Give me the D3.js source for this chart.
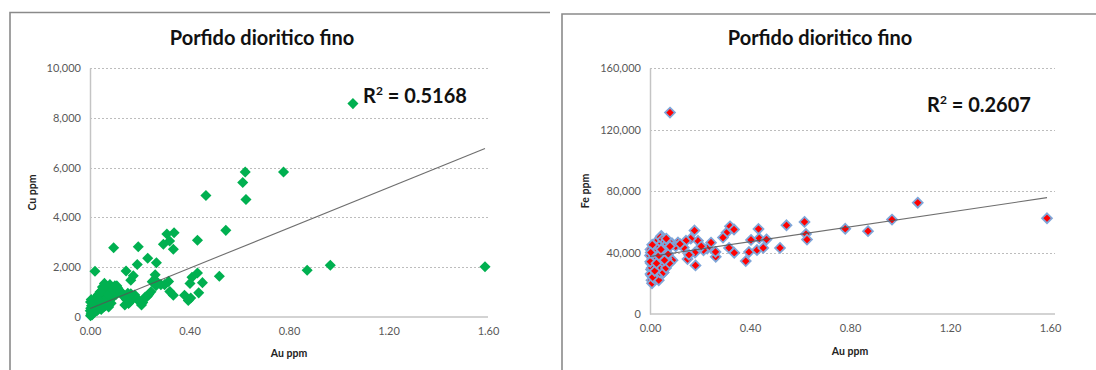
<!DOCTYPE html>
<html>
<head>
<meta charset="utf-8">
<script src="https://cdn.jsdelivr.net/npm/d3@7"></script>
<style>
  html, body { margin: 0; padding: 0; background: #fff; }
  svg { display: block; }
  text { font-family: Lato, "Open Sans", sans-serif; }
</style>
</head>
<body>
<svg id="chart" width="1096" height="370"></svg>
<script>
// ---- Cu vs Au samples (Au ppm, Cu ppm) ----
const cuAu = [
  1.057, 0.778, 0.624, 0.614, 0.627, 0.466, 0.546, 0.432, 0.338, 0.309, 0.295, 0.335, 0.320,
  0.095, 0.194, 0.232, 0.267, 0.190, 0.020, 0.145, 0.174, 0.164, 0.262, 0.873, 0.966, 1.588,
  0.520, 0.432, 0.410, 0.402, 0.452, 0.437, 0.380, 0.395, 0.405, 0.316, 0.285, 0.321, 0.335,
  0.265, 0.245, 0.230, 0.207, 0.140, 0.152, 0.108, 0.172, 0.190, 0.160, 0.180, 0.236, 0.270,
  0.300, 0.125, 0.112, 0.155, 0.212, 0.250, 0.222, 0.189, 0.164, 0.198, 0.146, 0.118, 0.135,
  0.002, 0.004, 0.006, 0.008, 0.010, 0.003, 0.012, 0.015, 0.018, 0.020, 0.022, 0.025, 0.027,
  0.030, 0.032, 0.035, 0.038, 0.040, 0.042, 0.045, 0.048, 0.050, 0.052, 0.055, 0.058, 0.060,
  0.062, 0.065, 0.068, 0.070, 0.072, 0.075, 0.078, 0.080, 0.083, 0.085, 0.088, 0.090, 0.095,
  0.100, 0.105, 0.012, 0.016, 0.006, 0.028, 0.040, 0.050, 0.058, 0.045, 0.055, 0.065, 0.075,
  0.085, 0.001, 0.002, 0.005, 0.033, 0.037, 0.047, 0.063, 0.068, 0.073, 0.092, 0.098, 0.110
];
const cuPpm = [
  8570, 5820, 5820, 5400, 4720, 4880, 3480, 3080, 3380, 3330, 2920, 2720, 3050,
  2780, 2820, 2360, 2180, 2110, 1840, 1850, 1660, 1480, 1700, 1880, 2080, 2020,
  1640, 1770, 1600, 1350, 1380, 970, 870, 660, 760, 1430, 1300, 1020, 870,
  1260, 1010, 820, 480, 480, 950, 1250, 760, 700, 600, 880, 900, 1400,
  1300, 1000, 1150, 540, 580, 1420, 800, 730, 930, 640, 700, 1050, 820,
  50, 120, 200, 80, 300, 350, 150, 420, 250, 500, 350, 600, 450,
  700, 300, 550, 800, 650, 400, 900, 750, 550, 1000, 850, 650, 1100,
  450, 950, 750, 1200, 600, 1050, 850, 1300, 700, 950, 1150, 800, 1000,
  1250, 900, 550, 700, 450, 250, 1000, 1200, 1350, 300, 400, 500, 400,
  550, 250, 600, 700, 900, 650, 1050, 1250, 600, 900, 1100, 1200, 1150
];

// ---- Fe vs Au samples (Au ppm, Fe ppm) ----
const feAu = [
  0.080, 1.071, 1.588, 0.968, 0.872, 0.781, 0.618, 0.624, 0.628, 0.546, 0.520, 0.434,
  0.437, 0.466, 0.404, 0.396, 0.383, 0.428, 0.453, 0.320, 0.336, 0.306, 0.292, 0.316,
  0.337, 0.263, 0.262, 0.244, 0.229, 0.214, 0.192, 0.178, 0.180, 0.182, 0.163, 0.144,
  0.150, 0.135, 0.112, 0.088, 0.090, 0.054, 0.045, 0.067, 0.103, 0.120, 0.156, 0.205,
  0.000, 0.002, 0.003, 0.004, 0.005, 0.006, 0.008, 0.010, 0.012, 0.013, 0.015, 0.016,
  0.018, 0.020, 0.022, 0.024, 0.025, 0.027, 0.028, 0.030, 0.032, 0.033, 0.035, 0.037,
  0.038, 0.040, 0.042, 0.043, 0.045, 0.047, 0.048, 0.050, 0.052, 0.054, 0.055, 0.057,
  0.060, 0.062, 0.064, 0.066, 0.068, 0.070, 0.073, 0.076, 0.078, 0.080, 0.002, 0.007,
  0.009, 0.001, 0.003, 0.011, 0.019, 0.026, 0.036, 0.044, 0.058, 0.065
];
const fePpm = [
  131000, 72400, 62300, 61400, 53900, 55400, 59900, 52000, 48400, 57700, 43000, 55300,
  49200, 48500, 48200, 40300, 34400, 41600, 43000, 57000, 55000, 52800, 49700, 43000,
  39800, 37200, 40400, 46400, 42600, 41500, 47600, 54300, 40000, 31600, 49000, 47600,
  35700, 43200, 46500, 46000, 35000, 27000, 50800, 42200, 44000, 45500, 38500, 44000,
  38000, 42000, 33000, 29000, 25000, 22000, 20000, 36000, 40000, 31000, 27000, 44000,
  23000, 38000, 34000, 46000, 29000, 25000, 41000, 36000, 48000, 32000, 22000, 44000,
  39000, 27000, 50000, 35000, 30000, 46000, 41000, 48500, 37000, 27000, 33000, 44000,
  40000, 47000, 30000, 36000, 43000, 45500, 39000, 47000, 33000, 44000, 26000, 30000,
  45000, 34000, 40000, 24000, 28000, 33000, 38000, 42000, 35000, 49000
];

// Linear trend coefficients [slope, intercept] and R² labels
const cuFit = [4046, 340];
const feFit = [24100, 37400];
const cuR2 = "0.5168";
const feR2 = "0.2607";

// Axis ticks
const auTicks = [0, 0.4, 0.8, 1.2, 1.6];
const cuTicks = [0, 2000, 4000, 6000, 8000, 10000];
const feTicks = [0, 40000, 80000, 120000, 160000];

const chartTitle = "Porfido dioritico fino";

const svg = d3.select("#chart");
const fmtX = d3.format(".2f");
const fmtY = v => v === 0 ? "0" : d3.format(",")(v);

function drawPanel(cfg) {
  const g = svg.append("g");
  const x = d3.scaleLinear().domain([0, 1.6]).range([cfg.x0, cfg.x1]);
  const y = d3.scaleLinear().domain([0, cfg.yMax]).range([cfg.y0, cfg.y1]);

  // frame
  g.append("path")
    .attr("d", `M${cfg.frame[0]},370 V${cfg.frame[1]} H${cfg.frame[2]}`)
    .attr("fill", "none").attr("stroke", "#8a8a8a").attr("stroke-width", 1.6);

  // title
  g.append("text").attr("x", cfg.titleX).attr("y", 45)
    .attr("text-anchor", "middle").attr("font-size", 20).attr("font-weight", 700)
    .attr("fill", "#111").text(chartTitle);

  // gridlines
  g.append("g").selectAll("line").data(cfg.yTicks.filter(d => d > 0)).join("line")
    .attr("x1", cfg.x0).attr("x2", cfg.gridEnd)
    .attr("y1", d => Math.round(y(d)) + 0.5).attr("y2", d => Math.round(y(d)) + 0.5)
    .attr("stroke", "#bdbdbd").attr("stroke-width", 1).attr("stroke-dasharray", "2,2");

  // y axis
  const ya = g.append("g").attr("transform", `translate(${cfg.x0},0)`)
    .call(d3.axisLeft(y).tickValues(cfg.yTicks).tickFormat(fmtY).tickSize(0).tickPadding(9));
  ya.select(".domain").attr("stroke", "#c4c4c4").attr("stroke-width", 1.5);
  ya.selectAll("text").attr("font-size", 11).attr("fill", "#595959");

  // x axis
  const xa = g.append("g").attr("transform", `translate(0,${cfg.y0})`)
    .call(d3.axisBottom(x).tickValues(auTicks).tickFormat(fmtX).tickSize(0).tickPadding(10));
  xa.select(".domain").attr("stroke", "#c4c4c4").attr("stroke-width", 1.5)
    .attr("d", `M${cfg.x0},0H${cfg.gridEnd}`);
  xa.selectAll("text").attr("font-size", 11).attr("fill", "#595959");

  // axis titles
  g.append("text").attr("x", (cfg.x0 + cfg.x1) / 2).attr("y", cfg.xTitleY)
    .attr("text-anchor", "middle").attr("font-size", 10.5).attr("font-weight", 700)
    .attr("fill", "#222").text("Au ppm");
  g.append("text")
    .attr("transform", `translate(${cfg.yTitleX},${(cfg.y0 + cfg.y1) / 2}) rotate(-90)`)
    .attr("text-anchor", "middle").attr("font-size", 10.5).attr("font-weight", 700)
    .attr("fill", "#222").text(cfg.yName);

  // markers
  const pts = cfg.xs.map((v, i) => [v, cfg.ys[i]]);
  const diamond = d3.symbol().type(d3.symbolDiamond2).size(cfg.mSize);
  g.append("g").selectAll("path").data(pts).join("path")
    .attr("d", diamond)
    .attr("transform", d => `translate(${x(d[0])},${y(d[1])})`)
    .attr("fill", cfg.fill)
    .attr("stroke", cfg.stroke || "none")
    .attr("stroke-width", cfg.stroke ? 1.8 : 0);

  // linear trend line across the sampled Au range
  const xMin = d3.min(cfg.xs), xMax = d3.max(cfg.xs);
  const f = v => cfg.fit[0] * v + cfg.fit[1];
  g.append("line")
    .attr("x1", x(xMin)).attr("y1", y(f(xMin)))
    .attr("x2", x(xMax)).attr("y2", y(f(xMax)))
    .attr("stroke", "#555").attr("stroke-opacity", 0.85).attr("stroke-width", 1.1);

  // R² label
  const t = g.append("text").attr("x", cfg.r2X).attr("y", cfg.r2Y)
    .attr("font-size", 20).attr("font-weight", 700).attr("fill", "#111");
  t.append("tspan").text("R");
  t.append("tspan").attr("font-size", 12).attr("dy", -8).text("2");
  t.append("tspan").attr("dy", 8).text(" = " + cfg.r2);
}

drawPanel({
  frame: [10, 12.5, 550], titleX: 262,
  x0: 90, x1: 488, gridEnd: 488, y0: 317, y1: 68, yMax: 10000, yTicks: cuTicks,
  xTitleY: 357, yTitleX: 36, yName: "Cu ppm",
  xs: cuAu, ys: cuPpm, fill: "#00B050", mSize: 78,
  fit: cuFit, r2: cuR2, r2X: 363, r2Y: 103
});

drawPanel({
  frame: [562, 14, 1096], titleX: 820,
  x0: 650, x1: 1050, gridEnd: 1055, y0: 314, y1: 68, yMax: 160000, yTicks: feTicks,
  xTitleY: 355, yTitleX: 589, yName: "Fe ppm",
  xs: feAu, ys: fePpm, fill: "#FF0000", stroke: "#7FA6D9", mSize: 62,
  fit: feFit, r2: feR2, r2X: 927, r2Y: 112
});
</script>
</body>
</html>
